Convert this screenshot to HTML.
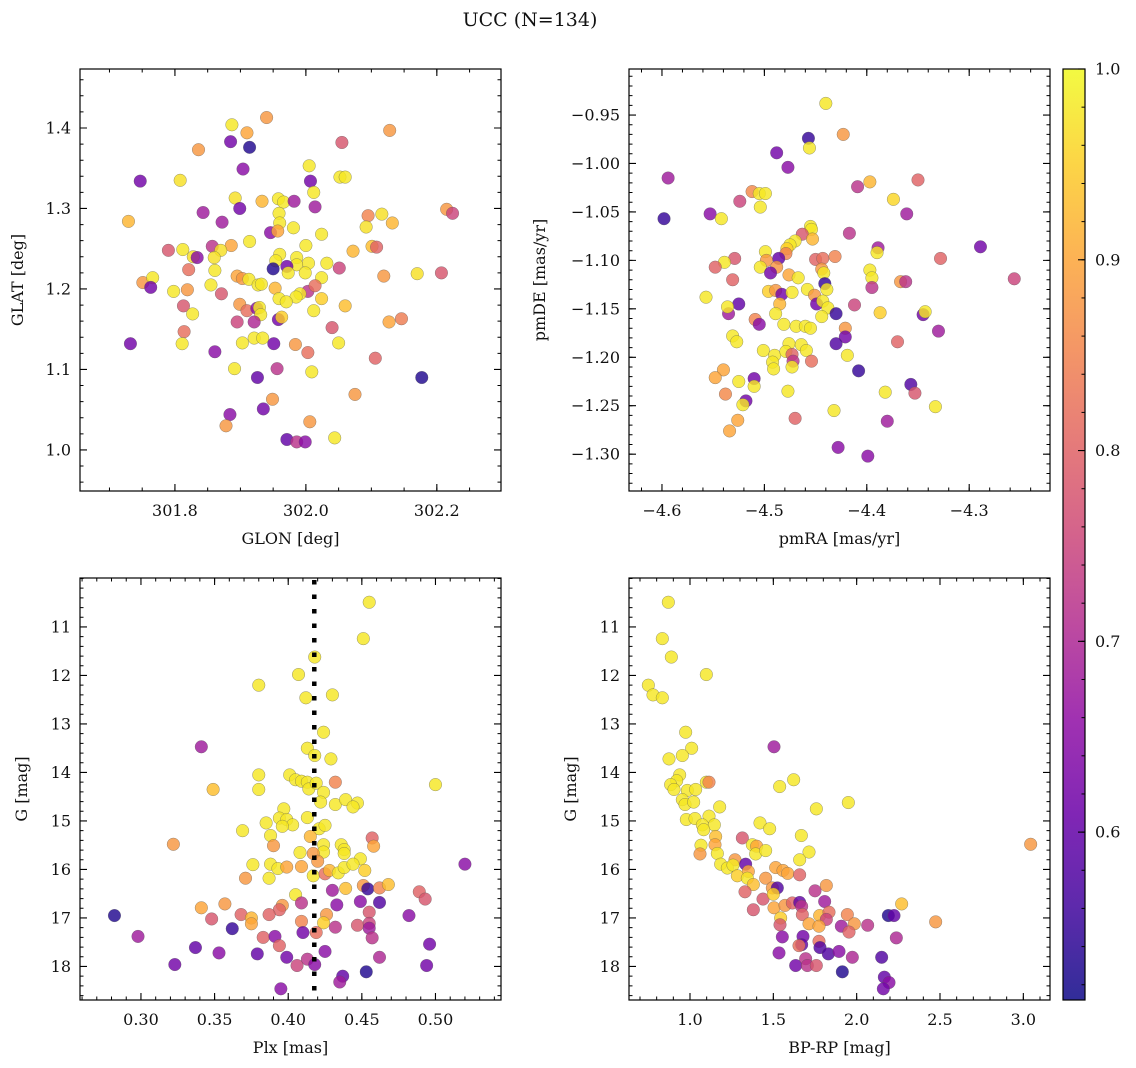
<!DOCTYPE html>
<html><head><meta charset="utf-8"><style>
html,body{margin:0;padding:0;background:#fff;}
svg{display:block;font-family:"DejaVu Serif","Liberation Serif",serif;}
</style></head><body>
<svg id="fig" width="1136" height="1068" viewBox="0 0 1136 1068" xmlns="http://www.w3.org/2000/svg">
<rect width="1136" height="1068" fill="#fff"/>
<text x="530" y="26" font-size="19" text-anchor="middle" fill="#111">UCC (N=134)</text>
</svg>
<script>
// ---- data: top-left (GLON/GLAT)
const glon=[301.940,301.887,301.910,302.128,301.885,301.914,301.836,302.055,301.904,301.747,301.808,302.005,302.007,302.052,302.060,302.012,301.892,301.933,301.958,301.966,301.982,301.899,302.014,301.843,301.729,301.872,301.959,301.960,302.215,302.224,302.095,302.116,302.132,302.092,301.946,301.957,301.981,302.024,301.914,301.790,301.812,301.857,301.886,301.870,301.828,301.834,301.860,302.072,302.101,302.108,302.000,301.960,301.954,301.986,301.986,302.004,301.950,301.971,301.973,301.999,302.032,302.051,301.821,301.751,301.766,301.763,301.861,301.895,301.903,301.913,301.927,301.932,301.953,302.024,302.119,302.170,302.207,301.798,301.819,301.855,301.871,302.003,302.014,301.991,301.985,301.959,301.970,302.024,302.060,302.012,301.899,301.910,301.925,301.929,301.931,301.813,301.827,301.895,301.921,301.958,301.963,302.040,302.127,302.146,301.732,301.814,301.811,301.903,301.921,301.934,301.951,301.984,302.003,302.050,301.861,302.106,301.891,301.926,301.956,302.009,302.177,302.075,301.949,301.884,301.935,301.878,302.006,301.971,301.986,301.999,302.044];
const glat=[1.413,1.404,1.394,1.397,1.383,1.376,1.373,1.382,1.349,1.334,1.335,1.353,1.334,1.339,1.339,1.320,1.313,1.309,1.312,1.308,1.309,1.300,1.302,1.295,1.284,1.283,1.294,1.282,1.299,1.294,1.291,1.293,1.282,1.277,1.270,1.272,1.276,1.268,1.259,1.248,1.249,1.253,1.254,1.248,1.240,1.239,1.239,1.247,1.253,1.252,1.254,1.243,1.235,1.239,1.230,1.232,1.225,1.228,1.220,1.220,1.232,1.226,1.224,1.208,1.214,1.202,1.223,1.216,1.213,1.212,1.205,1.206,1.201,1.214,1.216,1.219,1.220,1.197,1.199,1.205,1.194,1.197,1.204,1.194,1.190,1.188,1.184,1.188,1.179,1.173,1.181,1.173,1.176,1.177,1.168,1.179,1.169,1.159,1.159,1.162,1.165,1.152,1.159,1.163,1.132,1.147,1.132,1.133,1.139,1.139,1.132,1.131,1.121,1.133,1.122,1.114,1.101,1.090,1.101,1.097,1.090,1.069,1.063,1.044,1.051,1.030,1.035,1.013,1.010,1.010,1.015];
const probTL=[.88,.98,.9,.88,.62,.53,.88,.78,.65,.62,.97,.98,.62,.98,.98,.98,.97,.92,.98,.98,.68,.62,.68,.68,.92,.68,.98,.98,.88,.75,.85,.97,.92,.97,.65,.9,.98,.98,.98,.78,.98,.72,.9,.97,.97,.65,.97,.92,.93,.8,.98,.98,.98,.98,.98,.98,.53,.62,.98,.98,.98,.75,.82,.88,.98,.62,.98,.9,.88,.98,.98,.98,.92,.98,.88,.97,.78,.98,.88,.98,.78,.72,.82,.98,.98,.98,.98,.95,.93,.98,.88,.82,.65,.98,.98,.78,.98,.75,.7,.62,.95,.78,.9,.84,.62,.82,.98,.98,.98,.98,.62,.88,.82,.98,.65,.8,.98,.6,.72,.98,.53,.88,.88,.65,.62,.88,.88,.6,.72,.65,.98];
// ---- data: top-right (pmRA/pmDE)
const pmra=[-4.440,-4.423,-4.457,-4.456,-4.488,-4.477,-4.594,-4.409,-4.397,-4.350,-4.374,-4.512,-4.505,-4.499,-4.504,-4.524,-4.361,-4.598,-4.553,-4.542,-4.417,-4.455,-4.454,-4.463,-4.453,-4.470,-4.475,-4.478,-4.479,-4.499,-4.486,-4.389,-4.390,-4.289,-4.529,-4.539,-4.548,-4.498,-4.488,-4.504,-4.494,-4.450,-4.443,-4.431,-4.444,-4.442,-4.441,-4.439,-4.476,-4.467,-4.531,-4.397,-4.395,-4.395,-4.367,-4.362,-4.328,-4.256,-4.557,-4.496,-4.489,-4.483,-4.473,-4.458,-4.451,-4.449,-4.443,-4.438,-4.485,-4.489,-4.412,-4.525,-4.535,-4.536,-4.430,-4.444,-4.387,-4.345,-4.343,-4.330,-4.509,-4.505,-4.481,-4.469,-4.460,-4.455,-4.421,-4.421,-4.430,-4.370,-4.531,-4.527,-4.501,-4.490,-4.476,-4.479,-4.464,-4.459,-4.473,-4.472,-4.454,-4.492,-4.491,-4.473,-4.419,-4.408,-4.357,-4.353,-4.382,-4.333,-4.540,-4.548,-4.525,-4.510,-4.510,-4.538,-4.518,-4.521,-4.477,-4.432,-4.470,-4.526,-4.534,-4.380,-4.428,-4.399];
const pmde=[-0.938,-0.970,-0.974,-0.984,-0.989,-1.004,-1.015,-1.024,-1.019,-1.017,-1.037,-1.029,-1.031,-1.031,-1.045,-1.039,-1.052,-1.057,-1.052,-1.057,-1.072,-1.065,-1.068,-1.073,-1.078,-1.080,-1.084,-1.088,-1.093,-1.091,-1.098,-1.087,-1.092,-1.086,-1.098,-1.102,-1.107,-1.100,-1.107,-1.107,-1.113,-1.099,-1.098,-1.096,-1.109,-1.113,-1.124,-1.130,-1.115,-1.118,-1.120,-1.110,-1.118,-1.128,-1.122,-1.122,-1.098,-1.119,-1.138,-1.132,-1.131,-1.135,-1.133,-1.130,-1.136,-1.145,-1.142,-1.149,-1.145,-1.155,-1.146,-1.145,-1.155,-1.148,-1.155,-1.158,-1.154,-1.156,-1.153,-1.173,-1.161,-1.166,-1.166,-1.168,-1.168,-1.170,-1.170,-1.179,-1.186,-1.184,-1.178,-1.184,-1.193,-1.198,-1.186,-1.194,-1.187,-1.193,-1.197,-1.204,-1.204,-1.205,-1.212,-1.210,-1.198,-1.214,-1.228,-1.237,-1.236,-1.251,-1.213,-1.221,-1.225,-1.222,-1.230,-1.238,-1.245,-1.249,-1.235,-1.255,-1.263,-1.265,-1.276,-1.266,-1.293,-1.302];
const probTR=[.98,.88,.55,.98,.62,.65,.68,.72,.92,.8,.96,.86,.98,.98,.98,.75,.68,.55,.65,.98,.72,.98,.98,.78,.92,.98,.98,.95,.85,.98,.6,.68,.98,.62,.78,.98,.8,.88,.88,.98,.62,.8,.82,.85,.88,.98,.55,.98,.9,.98,.8,.98,.98,.72,.88,.72,.8,.75,.98,.95,.88,.62,.98,.98,.88,.62,.98,.98,.92,.98,.75,.6,.68,.98,.55,.98,.95,.62,.98,.68,.85,.65,.98,.98,.98,.98,.88,.62,.58,.8,.98,.98,.98,.98,.98,.98,.98,.98,.8,.72,.82,.98,.98,.98,.98,.55,.58,.78,.98,.98,.9,.9,.98,.62,.98,.86,.62,.98,.98,.98,.8,.9,.9,.68,.65,.65];
// ---- data: bottom-left (Plx/G)
const plx=[0.455,0.451,0.418,0.407,0.380,0.412,0.430,0.424,0.413,0.418,0.429,0.341,0.380,0.380,0.349,0.401,0.405,0.409,0.413,0.414,0.419,0.424,0.432,0.422,0.432,0.439,0.447,0.444,0.500,0.397,0.394,0.399,0.403,0.385,0.396,0.413,0.421,0.425,0.369,0.388,0.390,0.322,0.457,0.458,0.415,0.424,0.424,0.436,0.438,0.438,0.408,0.417,0.420,0.449,0.376,0.388,0.393,0.399,0.409,0.417,0.425,0.428,0.434,0.438,0.444,0.452,0.387,0.371,0.520,0.405,0.430,0.439,0.451,0.454,0.462,0.468,0.489,0.493,0.341,0.357,0.396,0.394,0.409,0.433,0.449,0.462,0.455,0.282,0.348,0.368,0.375,0.375,0.387,0.409,0.426,0.424,0.419,0.410,0.432,0.447,0.455,0.455,0.457,0.482,0.362,0.298,0.383,0.391,0.394,0.337,0.353,0.379,0.399,0.413,0.406,0.418,0.425,0.462,0.496,0.494,0.323,0.453,0.437,0.435,0.395];
const gBL=[10.49,11.24,11.62,11.98,12.20,12.46,12.40,13.17,13.50,13.65,13.72,13.47,14.05,14.35,14.35,14.05,14.15,14.18,14.20,14.34,14.22,14.41,14.20,14.61,14.66,14.56,14.63,14.71,14.25,14.75,14.94,14.97,15.08,15.04,15.11,14.93,15.16,15.09,15.20,15.30,15.51,15.48,15.35,15.52,15.32,15.49,15.64,15.49,15.59,15.67,15.65,15.67,15.83,15.78,15.90,15.89,15.98,15.95,15.94,16.13,16.09,16.02,16.07,15.96,15.89,16.02,16.18,16.18,15.89,16.52,16.43,16.39,16.33,16.40,16.38,16.31,16.46,16.61,16.79,16.71,16.74,16.83,16.69,16.73,16.66,16.68,16.88,16.95,17.02,16.93,17.00,17.12,16.93,17.07,16.93,17.10,17.30,17.30,17.19,17.15,17.11,17.21,17.41,16.95,17.22,17.38,17.40,17.38,17.57,17.61,17.72,17.74,17.81,17.85,17.98,17.96,17.69,17.81,17.54,17.98,17.96,18.11,18.20,18.32,18.46];
const probBL=[.98,.98,.98,.98,.98,.98,.98,.98,.98,.98,.98,.68,.98,.98,.93,.98,.98,.98,.98,.98,.98,.98,.85,.98,.98,.98,.98,.98,.98,.98,.98,.98,.98,.98,.98,.98,.98,.98,.98,.98,.88,.88,.8,.9,.92,.98,.98,.98,.98,.98,.98,.88,.88,.98,.98,.98,.98,.9,.9,.98,.82,.92,.98,.98,.98,.95,.98,.88,.65,.98,.68,.93,.88,.55,.85,.93,.8,.78,.9,.88,.88,.8,.72,.65,.65,.58,.78,.53,.78,.8,.92,.9,.8,.85,.88,.95,.82,.62,.72,.78,.75,.68,.72,.65,.55,.68,.8,.65,.8,.6,.65,.6,.62,.72,.75,.65,.65,.7,.62,.62,.62,.53,.6,.68,.65];
const plxMedian=0.4177;
// ---- data: bottom-right (BP-RP/G)
const bprp=[0.870,0.834,0.888,1.098,0.750,0.778,0.834,0.974,1.010,0.954,0.874,1.504,0.938,0.920,0.884,0.904,0.984,1.034,1.098,1.114,1.622,1.538,0.954,0.970,1.022,1.178,1.758,1.950,0.978,1.030,1.114,1.074,1.146,1.082,1.420,1.478,1.314,1.668,1.154,1.150,1.374,1.400,1.066,1.060,1.164,1.394,1.454,1.714,1.658,3.044,1.270,1.334,1.184,1.224,1.258,1.350,1.284,1.344,1.380,1.454,1.514,1.558,1.586,1.658,1.330,1.438,1.494,1.524,1.500,1.750,1.818,1.808,1.380,1.504,1.570,1.614,1.658,1.670,1.674,1.544,1.540,1.714,1.778,1.834,1.818,1.774,1.944,1.908,1.986,1.954,2.066,2.270,2.190,2.224,2.474,2.238,1.554,1.678,1.670,1.654,1.774,1.780,1.830,1.894,1.974,1.534,1.634,1.694,1.704,1.758,1.914,2.150,2.166,2.194,2.160];
const gBR=[10.49,11.24,11.62,11.98,12.20,12.40,12.46,13.17,13.50,13.65,13.72,13.47,14.05,14.17,14.25,14.35,14.37,14.35,14.20,14.20,14.15,14.29,14.56,14.66,14.61,14.71,14.75,14.62,14.97,14.95,14.90,15.08,15.08,15.18,15.04,15.16,15.35,15.30,15.32,15.49,15.49,15.52,15.50,15.68,15.67,15.68,15.61,15.64,15.80,15.48,15.80,15.89,15.89,15.97,15.91,16.04,16.13,16.18,16.31,16.18,15.96,16.02,16.08,16.11,16.46,16.61,16.38,16.38,16.51,16.44,16.33,16.66,16.83,16.79,16.74,16.69,16.68,16.76,16.93,17.00,17.14,17.12,16.95,16.88,17.03,17.17,16.93,17.17,17.12,17.29,17.15,16.71,16.95,16.95,17.08,17.41,17.39,17.38,17.55,17.57,17.48,17.61,17.74,17.69,17.81,17.72,17.98,17.84,17.98,17.98,18.11,17.81,18.22,18.33,18.46];
const probBR=[.98,.98,.98,.98,.98,.98,.98,.98,.98,.98,.98,.68,.98,.98,.98,.98,.98,.98,.98,.85,.98,.98,.98,.98,.98,.98,.98,.98,.98,.98,.98,.98,.98,.98,.98,.98,.78,.98,.93,.9,.98,.9,.98,.88,.98,.98,.98,.98,.98,.88,.88,.6,.98,.98,.98,.9,.95,.98,.93,.88,.9,.9,.9,.8,.8,.78,.88,.58,.95,.72,.88,.68,.78,.9,.88,.8,.6,.72,.8,.95,.78,.9,.92,.82,.75,.9,.85,.68,.88,.8,.72,.93,.53,.6,.88,.7,.65,.62,.6,.82,.82,.58,.58,.65,.7,.65,.62,.72,.72,.78,.53,.58,.6,.65,.62];
// tick arrays
const ticksTLx=[301.8,302.0,302.2], labelsTLx=["301.8","302.0","302.2"];
const ticksTLy=[1.0,1.1,1.2,1.3,1.4], labelsTLy=["1.0","1.1","1.2","1.3","1.4"];
const ticksTRx=[-4.6,-4.5,-4.4,-4.3], labelsTRx=["\u22124.6","\u22124.5","\u22124.4","\u22124.3"];
const ticksTRy=[-0.95,-1.0,-1.05,-1.1,-1.15,-1.2,-1.25,-1.3], labelsTRy=["\u22120.95","\u22121.00","\u22121.05","\u22121.10","\u22121.15","\u22121.20","\u22121.25","\u22121.30"];
const ticksBLx=[0.30,0.35,0.40,0.45,0.50], labelsBLx=["0.30","0.35","0.40","0.45","0.50"];
const ticksG=[11,12,13,14,15,16,17,18], labelsG=["11","12","13","14","15","16","17","18"];
const ticksBRx=[1.0,1.5,2.0,2.5,3.0], labelsBRx=["1.0","1.5","2.0","2.5","3.0"];
const ticksCb=[0.6,0.7,0.8,0.9,1.0], labelsCb=["0.6","0.7","0.8","0.9","1.0"];
const cbMin=0.512, cbMax=1.0;

const NS="http://www.w3.org/2000/svg";
const svg=document.getElementById('fig');
function mk(tag,attrs,parent){const e=document.createElementNS(NS,tag);for(const k in attrs)e.setAttribute(k,attrs[k]);(parent||svg).appendChild(e);return e;}
const stops=[[13,8,135],[65,4,157],[106,0,168],[143,13,164],[177,42,144],[204,71,120],[225,100,98],[242,132,75],[252,166,54],[252,206,37],[240,249,33]];
function plasma(t){t=Math.max(0,Math.min(1,t));const f=t*10,i=Math.min(9,Math.floor(f)),u=f-i;const a=stops[i],b=stops[i+1];return 'rgb('+[0,1,2].map(k=>Math.round(a[k]+(b[k]-a[k])*u)).join(',')+')';}
function cmap(p){return plasma((p-cbMin)/(cbMax-cbMin));}

function panel(cfg){
  const g=mk('g',{});
  
  
  const L=cfg.box[0],T=cfg.box[1],R=cfg.box[2],B=cfg.box[3];
  const sx=v=>L+(v-cfg.xd[0])/(cfg.xd[1]-cfg.xd[0])*(R-L);
  const sy=v=>T+(v-cfg.yd[0])/(cfg.yd[1]-cfg.yd[0])*(B-T);
  const n=Math.min(cfg.xs.length,cfg.ys.length,cfg.ps.length);
  for(let i=0;i<n;i++){
    const c=mk('circle',{cx:sx(cfg.xs[i]),cy:sy(cfg.ys[i]),r:6.3,fill:cmap(cfg.ps[i]),'fill-opacity':0.82,stroke:'#555','stroke-opacity':0.6,'stroke-width':0.5},g);
    
    
  }
  if(cfg.vline!==undefined){
    const ln=mk('line',{x1:sx(cfg.vline),x2:sx(cfg.vline),y1:T+2,y2:B,stroke:'#000','stroke-width':4.5,'stroke-dasharray':'4.5 10'},g);
    
    
  }
  const fr=mk('rect',{x:L,y:T,width:R-L,height:B-T,fill:'none',stroke:'#000','stroke-width':1.2},g);
  
  
  const lo=Math.min(cfg.xd[0],cfg.xd[1]),hi=Math.max(cfg.xd[0],cfg.xd[1]);
  for(let v=Math.ceil(lo/cfg.xm-1e-6)*cfg.xm;v<=hi;v+=cfg.xm){const x=sx(v);mk('path',{d:`M${x},${B}v-3.5M${x},${T}v3.5`,stroke:'#000','stroke-width':1},g);}
  const ylo=Math.min(cfg.yd[0],cfg.yd[1]),yhi=Math.max(cfg.yd[0],cfg.yd[1]);
  for(let v=Math.ceil(ylo/cfg.ym-1e-6)*cfg.ym;v<=yhi;v+=cfg.ym){const y=sy(v);mk('path',{d:`M${L},${y}h3.5M${R},${y}h-3.5`,stroke:'#000','stroke-width':1},g);}
  cfg.xt.forEach((v,i)=>{const x=sx(v);mk('path',{d:`M${x},${B}v-7M${x},${T}v7`,stroke:'#000','stroke-width':1.1},g);
    const t=mk('text',{x:x,y:B+25,'font-size':16,'text-anchor':'middle',fill:'#111'},g);t.textContent=cfg.xl[i];
    
    });
  cfg.yt.forEach((v,i)=>{const y=sy(v);mk('path',{d:`M${L},${y}h7M${R},${y}h-7`,stroke:'#000','stroke-width':1.1},g);
    const t=mk('text',{x:L-9,y:y+5.5,'font-size':16,'text-anchor':'end',fill:'#111'},g);t.textContent=cfg.yl[i];
    
    });
  const xt=mk('text',{x:(L+R)/2,y:B+53,'font-size':16,'text-anchor':'middle',fill:'#111'},g);xt.textContent=cfg.xtitle;
  
  
  const yt=mk('text',{x:0,y:0,'font-size':16,'text-anchor':'middle',fill:'#111',transform:`translate(${cfg.ytx},${(T+B)/2}) rotate(-90)`},g);yt.textContent=cfg.ytitle;
  
  
}
panel({name:'glon-glat-panel',box:[80,69,501,491],xd:[301.655,302.298],yd:[1.4733,0.949],xs:glon,ys:glat,ps:probTL,xm:0.05,ym:0.02,xt:ticksTLx,xl:labelsTLx,yt:ticksTLy,yl:labelsTLy,xtitle:'GLON [deg]',ytitle:'GLAT [deg]',ytx:23});
panel({name:'pm-panel',box:[629,69,1050,491],xd:[-4.6322,-4.2211],yd:[-0.9025,-1.338],xs:pmra,ys:pmde,ps:probTR,xm:0.02,ym:0.01,xt:ticksTRx,xl:labelsTRx,yt:ticksTRy,yl:labelsTRy,xtitle:'pmRA [mas/yr]',ytitle:'pmDE [mas/yr]',ytx:545});
panel({name:'plx-g-panel',box:[80,578,501,1000],xd:[0.2586,0.5445],yd:[9.99,18.691],xs:plx,ys:gBL,ps:probBL,xm:0.01,ym:0.2,xt:ticksBLx,xl:labelsBLx,yt:ticksG,yl:labelsG,xtitle:'Plx [mas]',ytitle:'G [mag]',ytx:27,vline:plxMedian});
panel({name:'cmd-panel',box:[629,578,1050,1000],xd:[0.634,3.16],yd:[9.99,18.691],xs:bprp,ys:gBR,ps:probBR,xm:0.1,ym:0.2,xt:ticksBRx,xl:labelsBRx,yt:ticksG,yl:labelsG,xtitle:'BP-RP [mag]',ytitle:'G [mag]',ytx:576});

(function(){
  const g=mk('g',{});
  
  
  const L=1063,R=1085,T=69,B=1000;
  const defs=mk('defs',{},g);
  const lg=mk('linearGradient',{id:'cbg',x1:0,y1:1,x2:0,y2:0},defs);
  for(let i=0;i<=20;i++){const t=i/20;mk('stop',{offset:t,'stop-color':plasma(t),'stop-opacity':0.85},lg);}
  mk('rect',{x:L,y:T,width:R-L,height:B-T,fill:'url(#cbg)',stroke:'#000','stroke-width':1.2},g);
  const sy=v=>B-(v-cbMin)/(cbMax-cbMin)*(B-T);
  for(let v=0.52;v<=1.0001;v+=0.02){const y=sy(v);mk('path',{d:`M${R},${y}h-3.5`,stroke:'#000','stroke-width':1},g);}
  ticksCb.forEach((v,i)=>{const y=sy(v);mk('path',{d:`M${R},${y}h-7`,stroke:'#000','stroke-width':1.1},g);
    const t=mk('text',{x:R+10,y:y+5.5,'font-size':16,fill:'#111'},g);t.textContent=labelsCb[i];
    
    });
})();
</script>
</body></html>
